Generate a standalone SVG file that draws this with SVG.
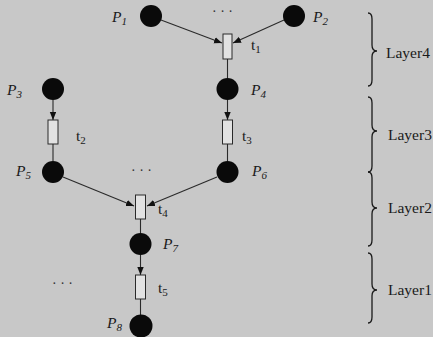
<svg xmlns="http://www.w3.org/2000/svg" width="433" height="337" viewBox="0 0 433 337">
<defs>
<style>
.bg{fill:#c8c8c8}
.place{fill:#0a0a0a}
.trans{fill:#e2e2e2;stroke:#2a2a2a;stroke-width:1}
.edge{stroke:#2a2a2a;stroke-width:1.1;fill:none}
.brace{stroke:#1a1a1a;stroke-width:1.3;fill:none}
.lbl{font-family:"Liberation Serif",serif;font-size:15.5px;fill:#1a1a1a}
.pl{font-style:italic}
.sub{font-size:11px}
.layer{font-family:"Liberation Serif",serif;font-size:15.5px;fill:#1a1a1a}
.dots{font-family:"Liberation Serif",serif;font-size:14px;fill:#333}
</style>
<marker id="ah" markerUnits="userSpaceOnUse" markerWidth="9" markerHeight="7" refX="8" refY="3.2" orient="auto">
<path d="M0,0 L8,3.2 L0,6.4 z" fill="#111"/>
</marker>
</defs>
<rect class="bg" x="0" y="0" width="433" height="337"/>

<g id="connectors">
<line class="edge" x1="161" y1="20" x2="222" y2="43" marker-end="url(#ah)"/>
<line class="edge" x1="284" y1="20" x2="233" y2="43" marker-end="url(#ah)"/>
<line class="edge" x1="227.5" y1="59" x2="227.5" y2="78"/>
<line class="edge" x1="227.5" y1="100" x2="227.5" y2="120" marker-end="url(#ah)"/>
<line class="edge" x1="53" y1="100" x2="53" y2="120" marker-end="url(#ah)"/>
<line class="edge" x1="53" y1="144" x2="53" y2="161"/>
<line class="edge" x1="227.5" y1="144" x2="227.5" y2="161"/>
<line class="edge" x1="63" y1="177" x2="134" y2="206" marker-end="url(#ah)"/>
<line class="edge" x1="217" y1="177" x2="147" y2="206" marker-end="url(#ah)"/>
<line class="edge" x1="140.5" y1="219" x2="140.5" y2="233"/>
<line class="edge" x1="140.5" y1="255" x2="140.5" y2="275" marker-end="url(#ah)"/>
<line class="edge" x1="140.5" y1="299" x2="140.5" y2="315"/>
</g>

<g id="P1"><circle class="place" cx="151" cy="16" r="11"/><text class="lbl pl" x="112" y="22">P<tspan class="sub" dy="3">1</tspan></text></g>
<g id="P2"><circle class="place" cx="294" cy="16" r="11"/><text class="lbl pl" x="313" y="22">P<tspan class="sub" dy="3">2</tspan></text></g>
<g id="t1"><rect class="trans" x="223" y="34" width="9" height="25"/><text class="lbl" x="251" y="50">t<tspan class="sub" dy="3">1</tspan></text></g>
<g id="P3"><circle class="place" cx="53" cy="89" r="11"/><text class="lbl pl" x="7" y="95">P<tspan class="sub" dy="3">3</tspan></text></g>
<g id="P4"><circle class="place" cx="227.5" cy="89" r="11"/><text class="lbl pl" x="251" y="95">P<tspan class="sub" dy="3">4</tspan></text></g>
<g id="t2"><rect class="trans" x="48" y="120" width="10" height="24"/><text class="lbl" x="76" y="141">t<tspan class="sub" dy="3">2</tspan></text></g>
<g id="t3"><rect class="trans" x="222.5" y="120" width="10" height="24"/><text class="lbl" x="242" y="141">t<tspan class="sub" dy="3">3</tspan></text></g>
<g id="P5"><circle class="place" cx="53" cy="172" r="11"/><text class="lbl pl" x="16" y="176">P<tspan class="sub" dy="3">5</tspan></text></g>
<g id="P6"><circle class="place" cx="227.5" cy="172" r="11"/><text class="lbl pl" x="252" y="176">P<tspan class="sub" dy="3">6</tspan></text></g>
<g id="t4"><rect class="trans" x="135.5" y="195" width="10" height="24"/><text class="lbl" x="158" y="214">t<tspan class="sub" dy="3">4</tspan></text></g>
<g id="P7"><circle class="place" cx="140.5" cy="244" r="11"/><text class="lbl pl" x="163" y="249">P<tspan class="sub" dy="3">7</tspan></text></g>
<g id="t5"><rect class="trans" x="135.5" y="275" width="10" height="24"/><text class="lbl" x="158" y="293">t<tspan class="sub" dy="3">5</tspan></text></g>
<g id="P8"><circle class="place" cx="141" cy="326" r="11.5"/><text class="lbl pl" x="107" y="328">P<tspan class="sub" dy="3">8</tspan></text></g>

<g id="ellipses">
<text class="dots" x="212" y="16">· · ·</text>
<text class="dots" x="131" y="175">· · ·</text>
<text class="dots" x="52" y="288">· · ·</text>
</g>

<g id="layers">
<path class="brace" d="M368,13 C371,13 372,15 372,19 L372,45 C372,49 374,51 377,51 C374,51 372,53 372,57 L372,80 C372,84 371,86 368,86"/>
<text class="layer" x="386" y="58">Layer4</text>
<path class="brace" d="M368,97 C371,97 372,99 372,103 L372,125 C372,129 374,131 377,131 C374,131 372,133 372,137 L372,166 C372,170 371,172 368,172"/>
<text class="layer" x="388" y="140">Layer3</text>
<path class="brace" d="M368,172 C371,172 372,174 372,178 L372,202 C372,206 374,208 377,208 C374,208 372,210 372,214 L372,240 C372,244 371,246 368,246"/>
<text class="layer" x="388" y="213">Layer2</text>
<path class="brace" d="M368,253 C371,253 372,255 372,259 L372,284 C372,288 374,290 377,290 C374,290 372,292 372,296 L372,317 C372,321 371,323 368,323"/>
<text class="layer" x="388" y="295">Layer1</text>
</g>
</svg>
